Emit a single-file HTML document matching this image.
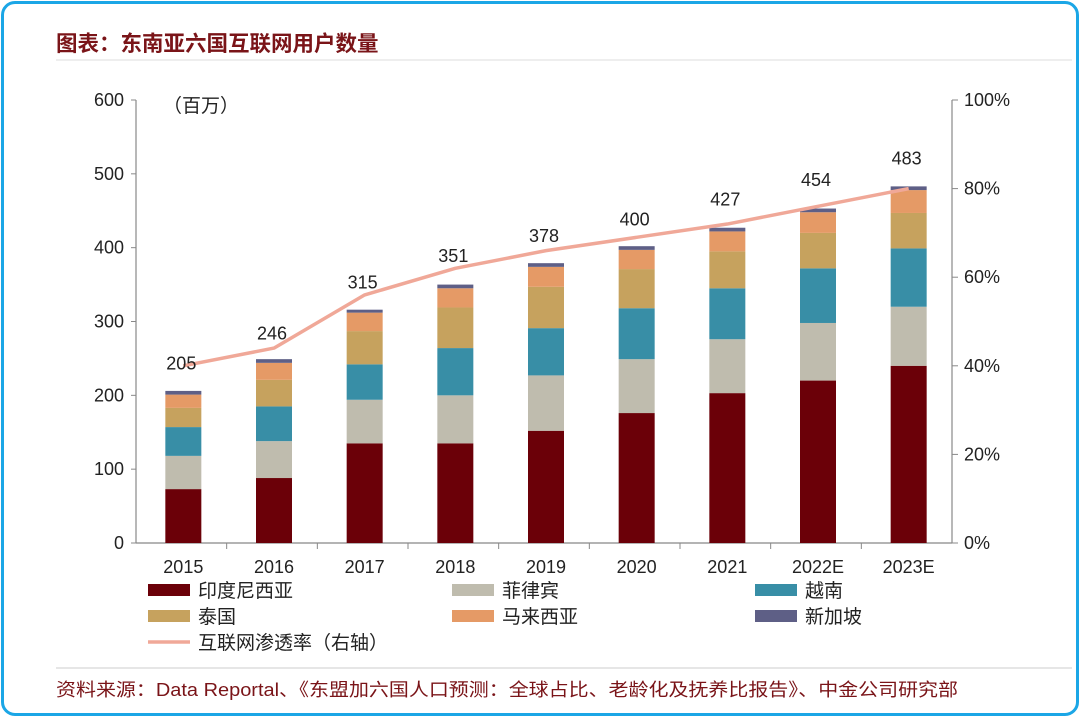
<!DOCTYPE html>
<html><head><meta charset="utf-8"><style>
html,body{margin:0;padding:0;background:#fff;}
body{width:1080px;height:717px;position:relative;overflow:hidden;font-family:"Liberation Sans","Noto Sans CJK SC",sans-serif;}
.frame{position:absolute;left:1px;top:1px;width:1072px;height:709px;border:3px solid #1ba6e6;border-radius:14px;}
</style></head><body>
<div class="frame"></div>
<svg width="1080" height="717" style="position:absolute;left:0;top:0" id="chart">
<text x="56" y="51" font-size="21.5" font-weight="bold" fill="#7a1418" font-family="Liberation Sans, Noto Sans CJK SC, sans-serif">图表：东南亚六国互联网用户数量</text>
<line x1="56" y1="60" x2="1072" y2="60" stroke="#ddd" stroke-width="1"/>
<text x="163" y="112" font-size="19" fill="#222" font-family="Liberation Sans, Noto Sans CJK SC, sans-serif">（百万）</text>
<line x1="56" y1="668" x2="1072" y2="668" stroke="#ccc" stroke-width="1"/>
<text x="56" y="696" font-size="18" fill="#7a1418" textLength="902" lengthAdjust="spacingAndGlyphs" font-family="Liberation Sans, Noto Sans CJK SC, sans-serif">资料来源：Data Reportal、《东盟加六国人口预测：全球占比、老龄化及抚养比报告》、中金公司研究部</text>
<g id="plot"></g>
</svg>
<script>
const categories=["2015","2016","2017","2018","2019","2020","2021","2022E","2023E"];
const indonesia=[73,88,135,135,152,176,203,220,240];
const philippines=[45,50,59,65,75,73,73,78,80];
const vietnam=[39,47,48,64,64,69,69,74,79];
const thailand=[26,36,45,55,56,53,50,48,48];
const malaysia=[18,23,25,26,27,26,27,28,31];
const singapore=[5,5,4,5,5,5,5,5,5];
const totals=[205,246,315,351,378,400,427,454,483];
const penetration=[40,44,56,62,66,69,72,76,80];
const leftTicks=[0,100,200,300,400,500,600];
const rightTicks=[0,20,40,60,80,100];
const seriesNames=["印度尼西亚","菲律宾","越南","泰国","马来西亚","新加坡"];
const seriesColors=["#6b0008","#bfbcae","#388ea6","#c6a25e","#e59a66","#5e5f86"];
const seriesData=[indonesia,philippines,vietnam,thailand,malaysia,singapore];

const NS="http://www.w3.org/2000/svg";
const g=document.getElementById('plot');
const X0=136,X1=952,Y0=543,Y1=100;
const band=(X1-X0)/categories.length;
const y=v=>Y0-(v/600)*(Y0-Y1);
const yr=v=>Y0-(v/100)*(Y0-Y1);
const xc=i=>X0+band*(i+0.5)+2;
function mk(t,a,txt){const e=document.createElementNS(NS,t);for(const k in a)e.setAttribute(k,a[k]);if(txt!==undefined)e.textContent=txt;g.appendChild(e);return e;}
const FF="Liberation Sans, Noto Sans CJK SC, sans-serif";
let e=mk('line',{x1:X0,y1:Y1,x2:X0,y2:Y0,stroke:'#888','stroke-width':1.2});

e=mk('line',{x1:X1,y1:Y1,x2:X1,y2:Y0,stroke:'#888','stroke-width':1.2});

e=mk('line',{x1:X0,y1:Y0,x2:X1,y2:Y0,stroke:'#888','stroke-width':1.2});

leftTicks.forEach(t=>{
 e=mk('line',{x1:X0-5,y1:y(t),x2:X0,y2:y(t),stroke:'#888'});
 
 e=mk('text',{x:124,y:y(t)+6,'text-anchor':'end','font-size':18,fill:'#222','font-family':FF},String(t));
 
});
rightTicks.forEach(t=>{
 e=mk('line',{x1:X1,y1:yr(t),x2:X1+6,y2:yr(t),stroke:'#888'});
 
 e=mk('text',{x:964,y:yr(t)+6,'font-size':18,fill:'#222','font-family':FF},t+'%');
 
});
categories.forEach((c,i)=>{
 if(i>0){e=mk('line',{x1:X0+band*i,y1:Y0,x2:X0+band*i,y2:Y0+6,stroke:'#888'});
 }
 e=mk('text',{x:xc(i),y:573,'text-anchor':'middle','font-size':18,fill:'#222','font-family':FF},c);
 
 let acc=0;
 seriesData.forEach((s,k)=>{
  const v=s[i];
  e=mk('rect',{x:xc(i)-18,y:y(acc+v),width:36,height:y(acc)-y(acc+v),fill:seriesColors[k]});
  
  acc+=v;
 });
});
const pts=penetration.map((p,i)=>xc(i)+','+yr(p)).join(' ');
e=mk('polyline',{points:pts,fill:'none',stroke:'#f0a898','stroke-width':3.5,'stroke-linejoin':'round'});

totals.forEach((t,i)=>{
 e=mk('text',{x:xc(i)-2,y:y(t)-22,'text-anchor':'middle','font-size':18,fill:'#222','font-family':FF},String(t));
 
});
const lx=[148,452,755],ly=[590,616];
seriesNames.forEach((n,k)=>{
 const cx=lx[k%3],cy=ly[Math.floor(k/3)];
 e=mk('rect',{x:cx,y:cy-6,width:42,height:12,fill:seriesColors[k]});
 
 e=mk('text',{x:cx+50,y:cy+7,'font-size':19,fill:'#222','font-family':FF},n);
 
});
e=mk('line',{x1:148,y1:642,x2:190,y2:642,stroke:'#f0a898','stroke-width':3.5});

e=mk('text',{x:198,y:649,'font-size':19,fill:'#222','font-family':FF},'互联网渗透率（右轴）');

</script>
</body></html>
